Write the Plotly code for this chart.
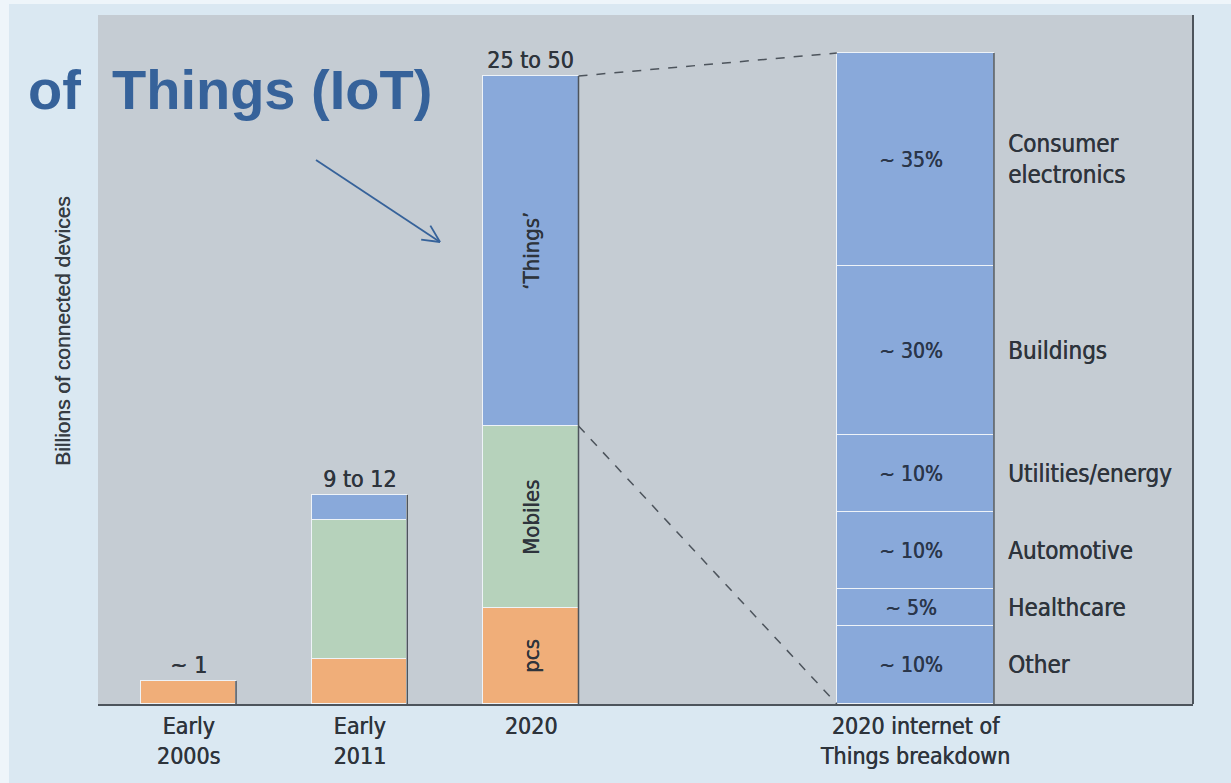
import math
import plotly.graph_objects as go

# ---------------- data ----------------
categories = ["Early<br>2000s", "Early<br>2011", "2020", "2020 internet of<br>Things breakdown"]
cat_pos = [1.0, 2.0, 3.0, 5.245]
bar_width = 0.555
bd_width = 0.917

pcs = [2.3, 4.5, 9.6]
mobiles = [0.0, 13.9, 18.2]
things = [0.0, 2.5, 35.0]
total_labels = ["~ 1", "9 to 12", "25 to 50"]

bd_names = ["Other", "Healthcare", "Automotive", "Utilities/energy", "Buildings", "Consumer<br>electronics"]
bd_values = [7.8, 3.7, 7.7, 7.7, 16.9, 21.3]
bd_labels = ["~ 10%", "~ 5%", "~ 10%", "~ 10%", "~ 30%", "~ 35%"]

# ---------------- style ----------------
C_ORANGE = "#f0ae79"
C_GREEN = "#b6d2bb"
C_BLUE = "#89a9da"
C_PLOT = "#c5ccd3"
C_PAPER = "#dae8f2"
C_TEXT = "#2e343c"
C_EDGE = "#eef3f8"
C_DARK = "#4d545c"
C_TITLE = "#36629a"
FONT = "DejaVu Sans Condensed, Liberation Sans Narrow, Roboto, sans-serif"

# plot-area geometry in pixels (for decorations placed in paper coordinates)
PL, PR, PT, PB = 98, 1193, 15, 704
PW, PH = PR - PL, PB - PT

def px(x):
    return (x - PL) / PW

def py(y):
    return (PB - y) / PH

def f(size, color=C_TEXT):
    return dict(family=FONT, size=size, color=color, shadow="0.5px 0px 0px " + color)

fig = go.Figure()
x3 = cat_pos[:3]
for vals, col in [(pcs, C_ORANGE), (mobiles, C_GREEN), (things, C_BLUE)]:
    fig.add_trace(go.Bar(x=x3, y=vals, width=bar_width, marker=dict(color=col, line=dict(color=C_EDGE, width=1.5)),
                         showlegend=False, hoverinfo="skip"))

for v in bd_values:
    fig.add_trace(go.Bar(x=[cat_pos[3]], y=[v], width=bd_width,
                         marker=dict(color=C_BLUE, line=dict(color=C_EDGE, width=1.5)),
                         showlegend=False, hoverinfo="skip"))

totals = [p + m + t for p, m, t in zip(pcs, mobiles, things)]
bd_total = sum(bd_values)

shapes = []
# dark right edges
for x, tot in zip(x3, totals):
    shapes.append(dict(type="line", xref="x", yref="y", x0=x + bar_width / 2, x1=x + bar_width / 2, y0=0, y1=tot,
                       line=dict(color=C_DARK, width=1.5)))
shapes.append(dict(type="line", xref="x", yref="y", x0=cat_pos[3] + bd_width / 2, x1=cat_pos[3] + bd_width / 2,
                   y0=0, y1=bd_total, line=dict(color=C_DARK, width=1.5)))
# dashed connectors
shapes.append(dict(type="line", xref="x", yref="y", x0=x3[2] + bar_width / 2, y0=totals[2],
                   x1=cat_pos[3] - bd_width / 2, y1=bd_total, line=dict(color=C_DARK, width=1.5, dash="dash")))
shapes.append(dict(type="line", xref="x", yref="y", x0=x3[2] + bar_width / 2, y0=pcs[2] + mobiles[2],
                   x1=cat_pos[3] - bd_width / 2, y1=0, line=dict(color=C_DARK, width=1.5, dash="dash")))
# right border of plot area
shapes.append(dict(type="line", xref="paper", yref="paper", x0=1, x1=1, y0=0, y1=1,
                   line=dict(color=C_DARK, width=2)))
# whitish outer frame strips
shapes.append(dict(type="rect", xref="paper", yref="paper", x0=px(0), x1=px(9), y0=py(783), y1=py(0),
                   fillcolor="#eef5fa", line=dict(width=0), layer="below"))
shapes.append(dict(type="rect", xref="paper", yref="paper", x0=px(0), x1=px(1231), y0=py(4), y1=py(0),
                   fillcolor="#eef5fa", line=dict(width=0), layer="below"))

# arrow (decoration): shaft plus open V head
tail = (316, 160)
head = (440, 242)
shapes.append(dict(type="line", xref="paper", yref="paper", x0=px(tail[0]), y0=py(tail[1]),
                   x1=px(head[0]), y1=py(head[1]), line=dict(color=C_TITLE, width=1.8)))
dx, dy = tail[0] - head[0], tail[1] - head[1]
L = math.hypot(dx, dy)
ux, uy = dx / L, dy / L
for ang in (26, -26):
    a = math.radians(ang)
    lx = ux * math.cos(a) - uy * math.sin(a)
    ly = ux * math.sin(a) + uy * math.cos(a)
    shapes.append(dict(type="line", xref="paper", yref="paper", x0=px(head[0]), y0=py(head[1]),
                       x1=px(head[0] + 19 * lx), y1=py(head[1] + 19 * ly), line=dict(color=C_TITLE, width=1.8)))

ann = []
for x, tot, lab in zip(x3, totals, total_labels):
    ann.append(dict(x=x, y=tot, text=lab, showarrow=False, yanchor="bottom", yshift=1, font=f(23)))
# rotated labels inside 2020 bar
ann.append(dict(x=x3[2], y=pcs[2] / 2, text="pcs", textangle=-90, showarrow=False, font=f(22)))
ann.append(dict(x=x3[2], y=pcs[2] + mobiles[2] / 2, text="Mobiles", textangle=-90, showarrow=False, font=f(22)))
ann.append(dict(x=x3[2], y=pcs[2] + mobiles[2] + things[2] / 2, text="‘Things’", textangle=-90, showarrow=False,
                font=f(22)))
# breakdown labels
base = 0
for v, name, lab in zip(bd_values, bd_names, bd_labels):
    mid = base + v / 2
    ann.append(dict(x=cat_pos[3], y=mid, text=lab, showarrow=False, xshift=-4, font=f(21, "#2a364a")))
    ann.append(dict(x=cat_pos[3] + bd_width / 2, y=mid, text=name, showarrow=False, xanchor="left", xshift=12,
                    align="left", font=f(24)))
    base += v

# y axis title
ann.append(dict(xref="paper", yref="paper", x=px(62), y=py(331), xanchor="center", yanchor="middle",
                text="Billions of connected devices", textangle=-90, showarrow=False,
                font=dict(family="Liberation Sans, Arial, sans-serif", size=21, color="#363c43",
                          shadow="0.4px 0px 0px #363c43")))
# overlay title
ann.append(dict(xref="paper", yref="paper", x=px(26), y=py(56), xanchor="left", yanchor="top",
                text="<b>of  Things (IoT)</b>", showarrow=False,
                font=dict(family="Liberation Sans, Arial, sans-serif", size=56, color=C_TITLE)))

fig.update_layout(
    width=1231, height=783,
    margin=dict(l=PL, r=1231 - PR, t=PT, b=783 - PB),
    paper_bgcolor=C_PAPER, plot_bgcolor=C_PLOT,
    barmode="stack", bargap=0,
    shapes=shapes, annotations=ann,
    xaxis=dict(range=[0.4715, 6.866], tickvals=cat_pos, ticktext=categories, showgrid=False, zeroline=False,
               showline=True, linecolor=C_DARK, linewidth=2, ticks="", tickfont=f(23)),
    yaxis=dict(range=[0, 68.9], showgrid=False, zeroline=False, showticklabels=False, showline=False),
)

fig.write_html("out.html")
